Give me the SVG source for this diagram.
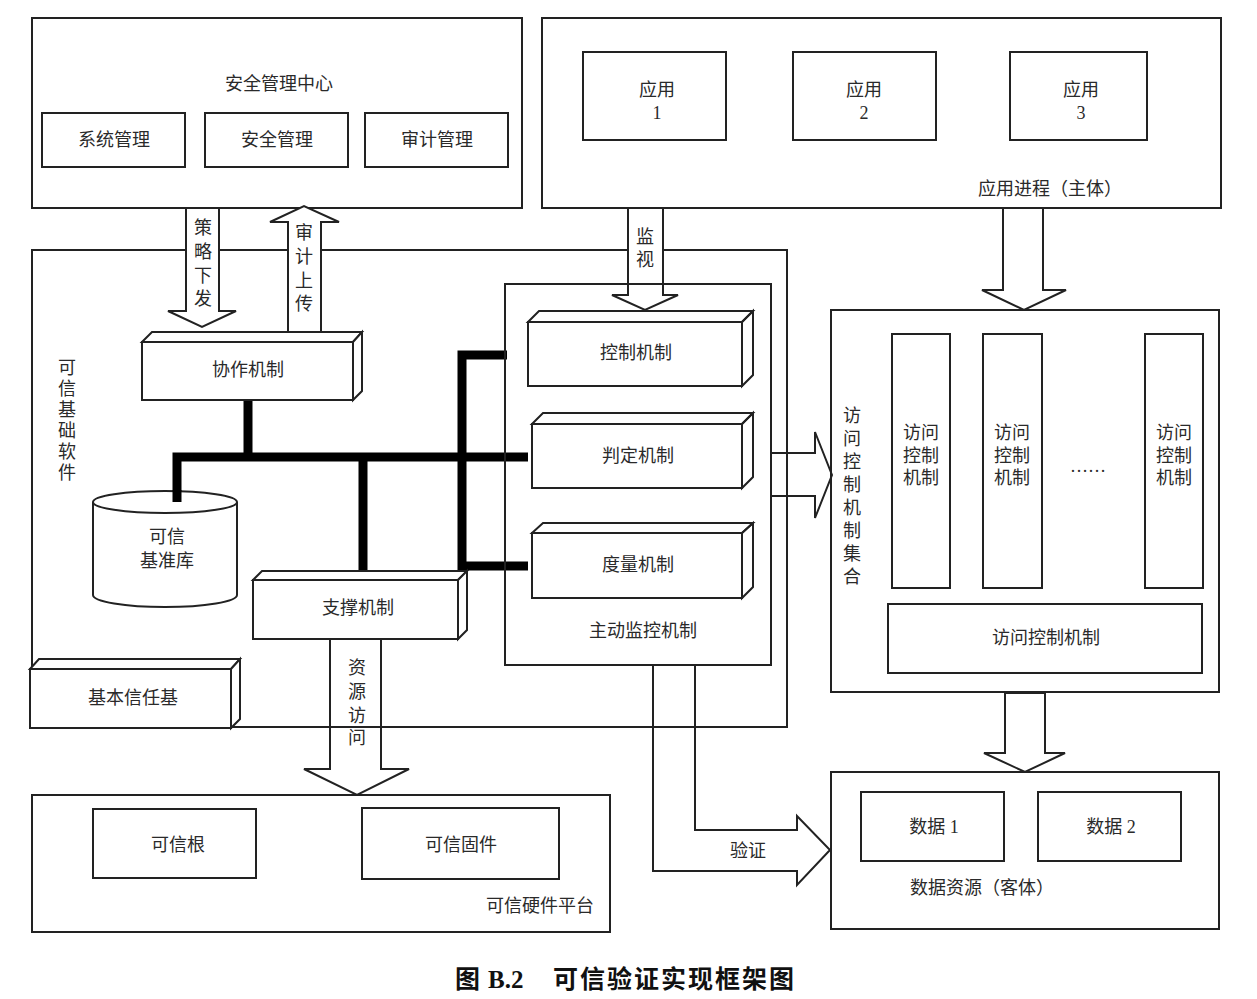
<svg xmlns="http://www.w3.org/2000/svg" width="1257" height="999" viewBox="0 0 1257 999">
<style>
.b{fill:none;stroke:#222;stroke-width:2}
.w{fill:#fff;stroke:#222;stroke-width:2;stroke-linejoin:miter}
.bus{fill:none;stroke:#000;stroke-width:9;stroke-linejoin:miter}
text{font-family:"Liberation Serif","Noto Sans CJK SC",serif;font-size:18px;fill:#2a2a2a;text-anchor:middle;dominant-baseline:central}
.cap{font-size:25px;font-weight:bold;fill:#111}
</style>
<rect width="1257" height="999" fill="#fff"/>

<!-- containers -->
<g id="security-center">
<rect class="b" x="32" y="18" width="490" height="190"/>
<text x="279" y="84">安全管理中心</text>
<rect class="b" x="42" y="113" width="143" height="54"/><text x="114" y="140">系统管理</text>
<rect class="b" x="205" y="113" width="143" height="54"/><text x="277" y="140">安全管理</text>
<rect class="b" x="365" y="113" width="143" height="54"/><text x="437" y="140">审计管理</text>
</g>

<g id="app-process">
<rect class="b" x="542" y="18" width="679" height="190"/>
<rect class="b" x="583" y="52" width="143" height="88"/><text x="657" y="90">应用</text><text x="657" y="113">1</text>
<rect class="b" x="793" y="52" width="143" height="88"/><text x="864" y="90">应用</text><text x="864" y="113">2</text>
<rect class="b" x="1010" y="52" width="137" height="88"/><text x="1081" y="90">应用</text><text x="1081" y="113">3</text>
<text x="1050" y="189">应用进程（主体）</text>
</g>

<g id="trusted-base-software">
<rect class="b" x="32" y="250" width="755" height="477"/>
<text x="67"><tspan x="67" y="368">可</tspan><tspan x="67" y="389">信</tspan><tspan x="67" y="410">基</tspan><tspan x="67" y="431">础</tspan><tspan x="67" y="452">软</tspan><tspan x="67" y="473">件</tspan></text>
</g>

<g id="hardware-platform">
<rect class="b" x="32" y="795" width="578" height="137"/>
<rect class="b" x="93" y="809" width="163" height="69"/><text x="178" y="845">可信根</text>
<rect class="b" x="362" y="808" width="197" height="71"/><text x="461" y="845">可信固件</text>
<text x="540" y="906">可信硬件平台</text>
</g>

<g id="acl-set">
<rect class="b" x="831" y="310" width="388" height="382"/>
<text><tspan x="852" y="416">访</tspan><tspan x="852" y="439">问</tspan><tspan x="852" y="462">控</tspan><tspan x="852" y="485">制</tspan><tspan x="852" y="508">机</tspan><tspan x="852" y="531">制</tspan><tspan x="852" y="554">集</tspan><tspan x="852" y="577">合</tspan></text>
<rect class="b" x="892" y="334" width="58" height="254"/>
<text><tspan x="921" y="433">访问</tspan><tspan x="921" y="456">控制</tspan><tspan x="921" y="478">机制</tspan></text>
<rect class="b" x="983" y="334" width="59" height="254"/>
<text><tspan x="1012" y="433">访问</tspan><tspan x="1012" y="456">控制</tspan><tspan x="1012" y="478">机制</tspan></text>
<text x="1088" y="466">……</text>
<rect class="b" x="1145" y="334" width="58" height="254"/>
<text><tspan x="1174" y="433">访问</tspan><tspan x="1174" y="456">控制</tspan><tspan x="1174" y="478">机制</tspan></text>
<rect class="b" x="888" y="604" width="314" height="69"/><text x="1046" y="638">访问控制机制</text>
</g>

<g id="data-resource">
<rect class="b" x="831" y="772" width="388" height="157"/>
<rect class="b" x="861" y="792" width="143" height="69"/><text x="934" y="827">数据 1</text>
<rect class="b" x="1038" y="792" width="143" height="69"/><text x="1111" y="827">数据 2</text>
<text x="982" y="888">数据资源（客体）</text>
</g>

<!-- connectors -->
<g id="connectors">
<polygon class="w" points="186,208 219,208 219,311 236,311 202,327 168,311 186,311"/>
<text><tspan x="203" y="228">策</tspan><tspan x="203" y="252">略</tspan><tspan x="203" y="276">下</tspan><tspan x="203" y="299">发</tspan></text>
<polygon class="w" points="288,332 321,332 321,222 339,222 304,206 270,222 288,222"/>
<text><tspan x="304" y="233">审</tspan><tspan x="304" y="257">计</tspan><tspan x="304" y="281">上</tspan><tspan x="304" y="304">传</tspan></text>
<polygon class="w" points="628,208 663,208 663,295 678,295 645,310 612,295 628,295"/>
<text><tspan x="645" y="237">监</tspan><tspan x="645" y="260">视</tspan></text>
<polygon class="w" points="1003,208 1043,208 1043,290 1066,290 1024,310 982,290 1003,290"/>
<polygon class="w" points="1005,693 1045,693 1045,753 1065,753 1025,772 984,753 1005,753"/>
<polygon class="b" points="330,639 381,639 381,769 409,769 357,795 304,769 330,769"/>
<text><tspan x="357" y="668">资</tspan><tspan x="357" y="692">源</tspan><tspan x="357" y="716">访</tspan><tspan x="357" y="738">问</tspan></text>
<polyline class="b" points="771,453 815,453 815,432 832,475 815,518 815,496 771,496"/>
<polyline class="b" points="653,665 653,871 797,871 797,885 830,850 797,816 797,830 695,830 695,665"/>
<text x="748" y="851">验证</text>
<polyline class="bus" points="177,500 177,457 528,457"/>
<line class="bus" x1="248" y1="400" x2="248" y2="457"/>
<line class="bus" x1="363" y1="457" x2="363" y2="573"/>
<polyline class="bus" points="507,355 462,355 462,566 528,566"/>
</g>

<g id="active-monitor">
<rect class="b" x="505" y="284" width="266" height="381"/>
<text x="643" y="631">主动监控机制</text>
</g>

<g id="control">
<rect class="b" x="528" y="322" width="214" height="64"/>
<polygon class="b" points="528,322 539,311 753,311 742,322"/>
<polygon class="b" points="742,322 753,311 753,375 742,386"/>
<text x="636" y="353">控制机制</text>
</g>
<g id="judge">
<rect class="w" x="532" y="424" width="210" height="64"/>
<polygon class="b" points="532,424 543,413 753,413 742,424"/>
<polygon class="b" points="742,424 753,413 753,477 742,488"/>
<text x="638" y="456">判定机制</text>
</g>
<g id="measure">
<rect class="w" x="532" y="533" width="210" height="65"/>
<polygon class="b" points="532,533 543,523 753,523 742,533"/>
<polygon class="b" points="742,533 753,523 753,587 742,598"/>
<text x="638" y="565">度量机制</text>
</g>

<g id="cooperation">
<rect class="w" x="142" y="342" width="211" height="58"/>
<polygon class="w" points="142,342 152,332 362,332 353,342"/>
<polygon class="w" points="353,342 362,332 362,391 353,400"/>
<text x="248" y="370">协作机制</text>
</g>

<g id="baseline-db">
<path class="w" d="M93,502 L93,595 A72,12 0 0 0 237,595 L237,502"/>
<ellipse class="w" cx="165" cy="502" rx="72" ry="11"/>
<line class="bus" x1="177" y1="490" x2="177" y2="502"/>
<text x="167" y="537">可信</text>
<text x="167" y="561">基准库</text>
</g>

<g id="support">
<rect class="w" x="253" y="580" width="205" height="59"/>
<polygon class="w" points="253,580 262,571 467,571 458,580"/>
<polygon class="w" points="458,580 467,571 467,630 458,639"/>
<text x="358" y="608">支撑机制</text>
</g>

<g id="basic-tcb">
<rect class="w" x="30" y="669" width="201" height="59"/>
<polygon class="w" points="30,669 39,659 240,659 231,669"/>
<polygon class="w" points="231,669 240,659 240,719 231,728"/>
<text x="133" y="698">基本信任基</text>
</g>

<text class="cap" x="455" y="979" style="text-anchor:start"><tspan>图</tspan><tspan x="488">B.2</tspan><tspan x="553" letter-spacing="2">可信验证实现框架图</tspan></text>
</svg>
